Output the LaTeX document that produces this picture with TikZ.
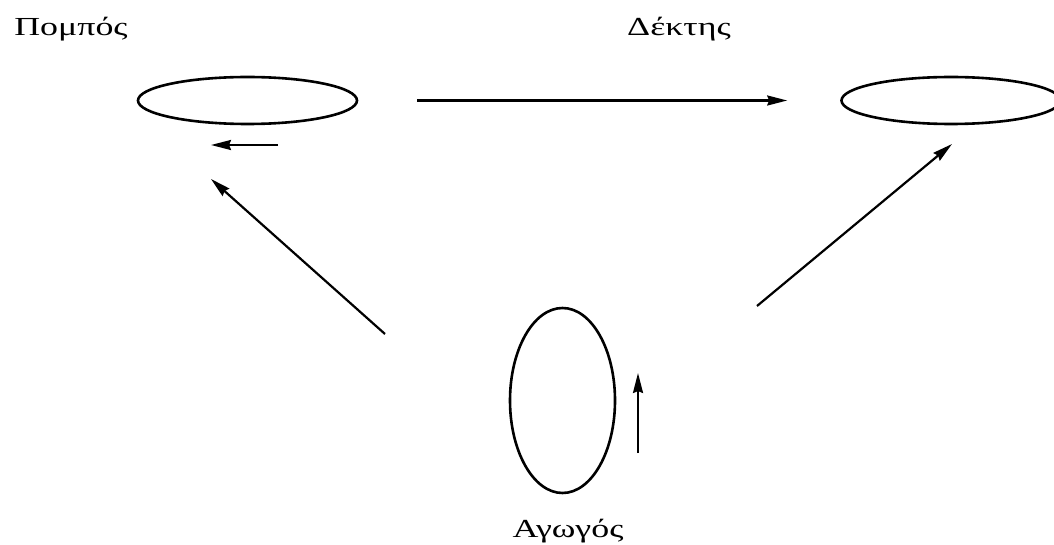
\documentclass[tikz,border=0pt]{standalone}
\usepackage{fontspec}
\usepackage{graphicx}
\setmainfont{Liberation Serif}
\usetikzlibrary{arrows.meta,shapes.geometric}
\tikzset{
  loop/.style={draw, ellipse, line width=2.6pt, inner sep=0pt},
  arr/.style={line width=2.2pt, -{Stealth[length=20pt,width=10pt,inset=2pt]}},
  lbl/.style={inner sep=0pt, font=\fontsize{26}{30}\selectfont},
}
\begin{document}
\begin{tikzpicture}[x=1pt,y=-1pt]
\useasboundingbox (0,0) rectangle (1054,545);
\node[lbl] (tx) at (71,29) {\scalebox{1.38}[1]{Πομπός}};
\node[lbl] (rx) at (679,29) {\scalebox{1.38}[1]{Δέκτης}};
\node[lbl] (gd) at (568,531) {\scalebox{1.38}[1]{Αγωγός}};
\node[loop, minimum width=219pt, minimum height=47pt] (e1) at (247.5,100.5) {};
\node[loop, minimum width=219pt, minimum height=47pt] (e2) at (951,100.5) {};
\node[loop, minimum width=105pt, minimum height=185pt] (e3) at (562.5,400.5) {};
\coordinate (a1s) at (278,145);
\coordinate (a1e) at (211,145);
\coordinate (a2s) at (385,334);
\coordinate (a2e) at (211,179);
\coordinate (a3s) at (757,306);
\coordinate (a3e) at (952,144);
\coordinate (a4s) at (638,453);
\coordinate (a4e) at (638,373);
\draw[arr] (e1) -- (e2) [shorten <=59pt, shorten >=53pt];
\draw[arr] (a1s) -- (a1e);
\draw[arr] (a2s) -- (a2e);
\draw[arr] (a3s) -- (a3e);
\draw[arr] (a4s) -- (a4e);
\end{tikzpicture}
\end{document}
